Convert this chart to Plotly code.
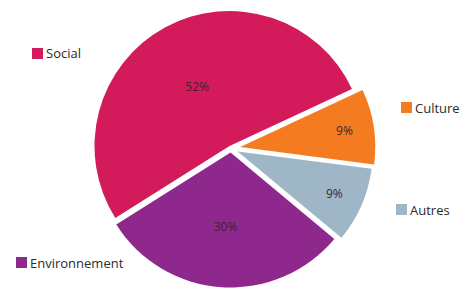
import plotly.graph_objects as go

categories = ["Culture", "Autres", "Environnement", "Social"]
values = [9, 9, 30, 52]
colors = ["#F47B20", "#9FB6C6", "#8F288D", "#D31A5A"]
pulls = [0.07, 0.055, 0.03, 0.02]

fig = go.Figure(go.Pie(
    labels=categories,
    values=values,
    sort=False,
    direction="clockwise",
    rotation=65,
    pull=pulls,
    marker=dict(colors=colors, line=dict(color="white", width=0)),
    texttemplate="%{value}%",
    textposition="inside",
    insidetextorientation="horizontal",
    textfont=dict(family="Open Sans", size=12, color="#3a2530"),
    hoverinfo="label+percent",
    domain=dict(x=[0.186, 0.809], y=[0.030, 0.987]),
    showlegend=False,
))

# legend-like labels: (name, colour, square left x, square top y)
legend_items = [
    ("Social", "#D31A5A", 32, 48),
    ("Culture", "#F47B20", 401, 102),
    ("Autres", "#9FB6C6", 396, 204),
    ("Environnement", "#8F288D", 16, 257),
]
W, H = 464, 302
for name, col, x, y in legend_items:
    fig.add_shape(
        type="rect", xref="paper", yref="paper",
        x0=x / W, x1=(x + 11) / W, y0=1 - y / H, y1=1 - (y + 11) / H,
        fillcolor=col, line=dict(width=0),
    )
    fig.add_annotation(
        x=(x + 13) / W, y=1 - (y + 5.5) / H, xref="paper", yref="paper",
        xanchor="left", yanchor="middle", showarrow=False,
        text=name, borderpad=0,
        font=dict(family="Open Sans", size=13, color="#2b2b2b"),
    )

fig.update_layout(
    width=W, height=H,
    margin=dict(l=0, r=0, t=0, b=0),
    paper_bgcolor="white", plot_bgcolor="white",
)
fig.write_html(
    "out.html",
    config={"displayModeBar": False},
    post_script="document.body.style.margin='0';",
)
